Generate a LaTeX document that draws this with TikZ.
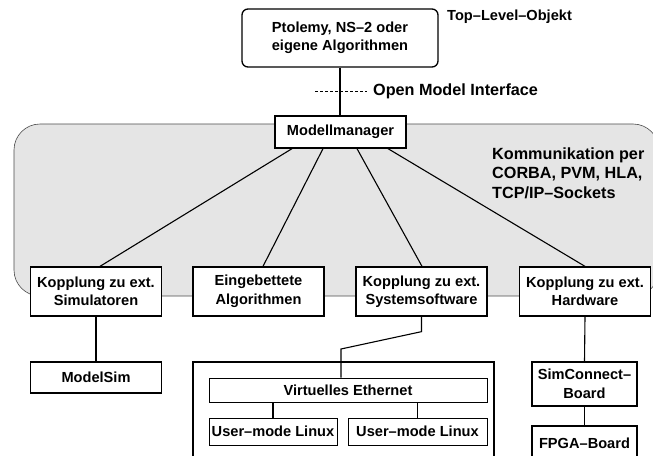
\documentclass[tikz,border=0pt]{standalone}
\usepackage{fontspec}
\setmainfont{Liberation Sans}
\usetikzlibrary{calc}

\begin{document}
\begin{tikzpicture}[
		x=1pt, y=-1pt,
		every node/.style={font=\bfseries\fontsize{14.6}{18.5}\selectfont, inner sep=0pt},
		box/.style={draw, line width=1.3pt, fill=white, align=center, minimum width=131pt, minimum height=49pt},
		subbox/.style={draw, line width=0.8pt, fill=white, minimum height=26pt},
		link/.style={line width=1.1pt},
		bigtext/.style={font=\bfseries\fontsize{16.2}{19.5}\selectfont}
	]
	\clip (0,0) rectangle (653,455);
	\fill[white] (0,0) rectangle (653,455);

	% Kommunikationsbereich
	\draw[fill=black!10, draw=black!70, line width=0.6pt, rounded corners=26pt] (14,124) rectangle (659,296);

	\node[box, rounded corners=6pt, minimum width=196pt, minimum height=58pt] (ptolemy) at (340,38) {Ptolemy, NS--2 oder\\eigene Algorithmen};
	\node[anchor=west] (toplevel) at (447,17) {Top--Level--Objekt};
	\node[box, minimum height=32pt] (mm) at (340.5,132) {Modellmanager};
	\node[bigtext, anchor=west] (omi) at (373,91) {Open Model Interface};
	\node[bigtext, anchor=west, align=left] (komm) at (492,173) {Kommunikation per\\CORBA, PVM, HLA,\\TCP/IP--Sockets};

	\node[box] (sim) at (96,291.5) {Kopplung zu ext.\\Simulatoren};
	\node[box] (alg) at (258.5,291.5) {Eingebettete\\Algorithmen};
	\node[box] (sys) at (421.5,291.5) {Kopplung zu ext.\\Systemsoftware};
	\node[box] (hw) at (585,291.5) {Kopplung zu ext.\\Hardware};

	\node[box, minimum height=31pt] (modelsim) at (96,377.5) {ModelSim};
	\node[draw, line width=1.3pt, minimum width=301pt, minimum height=108pt] (host) at (343.5,416) {};
	\node[subbox, minimum width=278pt, minimum height=24pt] (ve) at (348,390) {Virtuelles Ethernet};
	\node[subbox, minimum width=128pt, minimum height=27pt] (uml1) at (273,431.5) {User--mode Linux};
	\node[subbox, minimum width=139pt, minimum height=27pt] (uml2) at (417.5,431.5) {User--mode Linux};
	\node[box, minimum width=105pt, minimum height=44pt] (simc) at (584.5,384) {SimConnect--\\Board};
	\node[box, minimum width=105pt, minimum height=34pt] (fpga) at (584.5,443) {FPGA--Board};

	\coordinate (omistart) at (315,91);
	\coordinate (knick) at (341,349);

	\draw[line width=0.5pt, dash pattern=on 3pt off 2pt] (omistart) -- ([xshift=-6pt]omi.west);
	\draw[link] (ptolemy.south) -- (ptolemy.south |- mm.north);
	\draw[link] ([xshift=-48.5pt]mm.south) -- ([xshift=4pt]sim.north);
	\draw[link] ([xshift=-17.5pt]mm.south) -- ([xshift=4.5pt]alg.north);
	\draw[link] ([xshift=16.5pt]mm.south) -- ([xshift=0.5pt]sys.north);
	\draw[link] ([xshift=47.5pt]mm.south) -- (hw.north);
	\draw[link] (sim.south) -- (modelsim.north);
	\draw[link] (sys.south) -- ++(0,15) -- (knick) -- (knick |- ve.north);
	\draw[link] (uml1.north) -- (uml1.north |- ve.south);
	\draw[link] (uml2.north) -- (uml2.north |- ve.south);
	\draw[link] (hw.south) -- (simc.north);
	\draw[link] (simc.south) -- (fpga.north);

\end{tikzpicture}
\end{document}
